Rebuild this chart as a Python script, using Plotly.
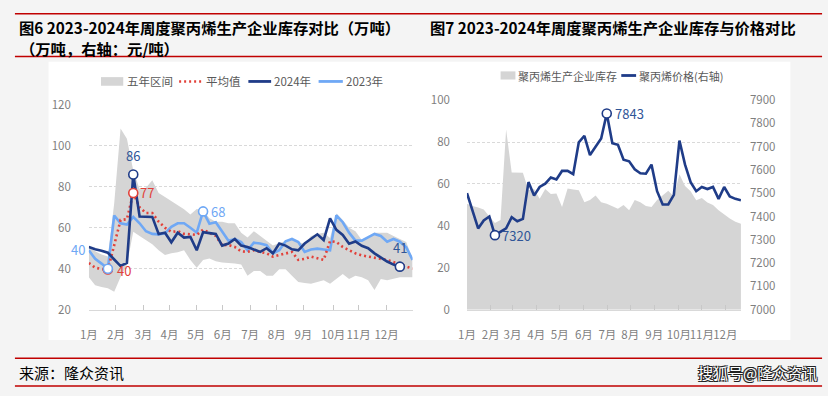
import plotly.graph_objects as go

W, H = 828, 396

# ---------------- data ----------------
weeks = list(range(1, 53))
weeks_2024 = list(range(1, 51))
month_labels = ["1月", "2月", "3月", "4月", "5月", "6月", "7月", "8月", "9月", "10月", "11月", "12月"]
left_month_pos = [1, 5.27, 9.6, 13.7, 17.9, 22.1, 26.4, 30.6, 34.8, 39.5, 43.5, 47.9]
right_month_pos = [1, 5.25, 9.15, 13.4, 17.6, 21.9, 26.1, 30.2, 34.5, 38.9, 43.0, 47.2]

inv_2024 = [50.6, 49.5, 48.8, 47.8, 44.5, 41.3, 42.8, 86.0, 65.5, 65.3,
            65.3, 57.0, 57.6, 52.9, 57.6, 55.2, 55.5, 49.0, 57.8, 57.4,
            57.0, 51.3, 52.3, 54.5, 51.3, 50.6, 49.3, 48.2, 50.0, 47.5,
            52.3, 51.3, 49.5, 49.0, 52.3, 54.5, 56.8, 54.0, 64.6, 59.0,
            56.5, 52.2, 53.3, 51.2, 50.0, 47.5, 45.5, 43.5, 42.0, 41.0]

inv_2023 = [49.0, 44.8, 42.5, 40.0, 66.0, 62.2, 61.6, 65.3, 62.2, 58.3,
            57.0, 56.8, 57.3, 60.5, 62.2, 62.2, 60.0, 57.6, 68.0, 62.0,
            62.7, 58.3, 53.7, 54.5, 53.0, 49.0, 52.7, 52.3, 51.5, 47.5,
            49.0, 53.4, 54.5, 53.0, 48.2, 49.4, 49.8, 49.4, 49.0, 66.1,
            62.7, 57.6, 53.7, 53.7, 55.2, 57.0, 56.0, 53.2, 54.5, 53.2,
            50.5, 44.3]

avg_5y = [42.8, 40.5, 39.8, 39.6, 51.5, 63.8, 64.2, 77.0, 70.0, 67.2,
          67.2, 63.0, 60.0, 58.0, 58.3, 57.0, 56.8, 56.5, 59.1, 57.6,
          56.0, 51.5, 51.6, 50.6, 48.5, 48.2, 49.0, 48.2, 47.5, 45.9,
          46.6, 47.5, 48.2, 44.3, 44.8, 45.9, 45.1, 44.3, 53.5, 53.0,
          50.6, 49.0, 47.5, 46.5, 45.9, 45.1, 44.8, 44.3, 43.2, 42.0,
          40.8, 40.0]

range_hi = [50.5, 48.5, 47.0, 46.0, 72.0, 108.5, 103.5, 88.0, 79.0, 79.5,
            83.2, 77.0, 75.0, 73.0, 71.0, 69.0, 66.5, 69.2, 68.6, 64.6,
            63.0, 63.0, 62.2, 62.2, 57.6, 55.2, 58.3, 56.0, 53.7, 51.3,
            52.6, 53.4, 54.5, 53.0, 52.1, 56.0, 57.0, 57.6, 55.0, 67.0,
            63.8, 60.0, 58.3, 54.0, 56.0, 57.6, 57.6, 57.6, 56.0, 54.5,
            53.0, 45.0]

range_lo = [35.8, 31.9, 31.1, 30.5, 28.8, 36.0, 42.0, 58.0, 56.0, 54.0,
            52.0, 49.0, 46.7, 47.5, 48.0, 49.0, 44.3, 40.5, 44.3, 45.0,
            43.6, 43.0, 42.8, 42.5, 42.0, 36.6, 38.9, 38.9, 36.6, 36.6,
            39.7, 39.7, 36.6, 33.5, 33.0, 32.7, 33.5, 34.3, 32.7, 35.0,
            37.4, 35.0, 36.6, 35.8, 34.3, 29.6, 35.0, 34.3, 35.0, 35.8,
            35.8, 35.8]

price_2024 = [7500, 7425, 7349, 7383, 7400, 7320, 7335, 7349, 7397, 7380,
              7390, 7548, 7490, 7527, 7541, 7568, 7559, 7596, 7596, 7582,
              7719, 7747, 7664, 7698, 7735, 7843, 7715, 7708, 7644, 7637,
              7603, 7586, 7584, 7623, 7509, 7452, 7452, 7493, 7726, 7623,
              7548, 7509, 7527, 7518, 7527, 7476, 7527, 7486, 7476, 7470]

# ---------------- styles ----------------
NAVY = "#1F3C88"
LBLUE = "#6FA8F5"
RED = "#E2413A"
GRAY_FILL = "#D5D5D5"
TXT_GRAY = "#7F7F7F"
FONT = "Noto Sans CJK SC"


def X(px):
    return px / W


def Y(py):
    return 1 - py / H


fig = go.Figure()

# ---- left chart ----
fig.add_trace(go.Scatter(x=weeks, y=range_lo, mode="lines", line=dict(width=0),
                         hoverinfo="skip", xaxis="x", yaxis="y"))
fig.add_trace(go.Scatter(x=weeks, y=range_hi, mode="lines", line=dict(width=0),
                         fill="tonexty", fillcolor=GRAY_FILL,
                         hoverinfo="skip", xaxis="x", yaxis="y"))
fig.add_trace(go.Scatter(x=weeks, y=inv_2023, mode="lines",
                         line=dict(color=LBLUE, width=2.6), xaxis="x", yaxis="y"))
fig.add_trace(go.Scatter(x=weeks, y=avg_5y, mode="lines",
                         line=dict(color=RED, width=2.6, dash="2px,3px"), xaxis="x", yaxis="y"))
fig.add_trace(go.Scatter(x=weeks_2024, y=inv_2024, mode="lines",
                         line=dict(color=NAVY, width=2.6), xaxis="x", yaxis="y"))


def idx_max(a):
    return a.index(max(a))


def idx_min(a):
    return a.index(min(a))


mk = dict(size=9, color="white")
i_mx24 = idx_max(inv_2024)
i_last24 = len(inv_2024) - 1
i_mxavg = idx_max(avg_5y)
i_mnavg = idx_min(avg_5y)
i_mx23 = idx_max(inv_2023)
i_mn23 = idx_min(inv_2023)

fig.add_trace(go.Scatter(x=[weeks_2024[i_mx24], weeks_2024[i_last24]],
                         y=[inv_2024[i_mx24], inv_2024[i_last24]], mode="markers",
                         marker=dict(**mk, line=dict(color=NAVY, width=1.6)), xaxis="x", yaxis="y"))
fig.add_trace(go.Scatter(x=[weeks[i_mxavg], weeks[i_mnavg]],
                         y=[avg_5y[i_mxavg], avg_5y[i_mnavg]], mode="markers",
                         marker=dict(**mk, line=dict(color=RED, width=1.6)), xaxis="x", yaxis="y"))
fig.add_trace(go.Scatter(x=[weeks[i_mx23], weeks[i_mn23]],
                         y=[inv_2023[i_mx23], inv_2023[i_mn23]], mode="markers",
                         marker=dict(**mk, line=dict(color=LBLUE, width=1.6)), xaxis="x", yaxis="y"))

# ---- right chart ----
fig.add_trace(go.Scatter(x=weeks_2024, y=inv_2024, mode="lines", line=dict(width=0),
                         fill="tozeroy", fillcolor=GRAY_FILL, xaxis="x2", yaxis="y2"))
fig.add_trace(go.Scatter(x=weeks_2024, y=price_2024, mode="lines",
                         line=dict(color=NAVY, width=2.6), xaxis="x2", yaxis="y3"))
i_mxp = idx_max(price_2024)
i_mnp = idx_min(price_2024)
fig.add_trace(go.Scatter(x=[weeks_2024[i_mxp], weeks_2024[i_mnp]],
                         y=[price_2024[i_mxp], price_2024[i_mnp]], mode="markers",
                         marker=dict(**mk, line=dict(color=NAVY, width=1.6)), xaxis="x2", yaxis="y3"))

tickfont = dict(family=FONT, size=11.5, color=TXT_GRAY)
grid = dict(showgrid=True, gridcolor="#D9D9D9", griddash="3px,2px", gridwidth=1)
xcommon = dict(ticks="inside", ticklen=5, tickcolor="#C8C8C8", showline=True,
               linecolor="#D9D9D9", linewidth=1, showgrid=False, zeroline=False,
               tickfont=tickfont, ticklabelstandoff=15, tickangle=0, fixedrange=True)

annotations = []
shapes = []


def label(text, x, y, xref, yref, color, xanchor="center", xshift=0, yshift=0, size=13):
    annotations.append(dict(text=text, x=x, y=y, xref=xref, yref=yref, showarrow=False,
                            xanchor=xanchor, yanchor="middle", xshift=xshift, yshift=yshift,
                            font=dict(family=FONT, size=size, color=color)))


label(f"{inv_2024[i_mx24]:.0f}", weeks_2024[i_mx24], inv_2024[i_mx24], "x", "y", "#2F5597", yshift=19)
label(f"{inv_2024[i_last24]:.0f}", weeks_2024[i_last24], inv_2024[i_last24], "x", "y", "#2F5597", yshift=19)
label(f"{avg_5y[i_mxavg]:.0f}", weeks[i_mxavg], avg_5y[i_mxavg], "x", "y", RED, xanchor="left", xshift=5)
label(f"{avg_5y[i_mnavg]:.0f}", weeks[i_mnavg], avg_5y[i_mnavg], "x", "y", RED, xanchor="left", xshift=7, yshift=-1)
label(f"{inv_2023[i_mx23]:.0f}", weeks[i_mx23], inv_2023[i_mx23], "x", "y", LBLUE, xanchor="left", xshift=6)
label(f"{inv_2023[i_mn23]:.0f}", weeks[i_mn23], inv_2023[i_mn23], "x", "y", LBLUE, xanchor="right", xshift=-21, yshift=19)
label(f"{price_2024[i_mxp]:.0f}", weeks_2024[i_mxp], price_2024[i_mxp], "x2", "y3", "#2F5597", xanchor="left", xshift=6)
label(f"{price_2024[i_mnp]:.0f}", weeks_2024[i_mnp], price_2024[i_mnp], "x2", "y3", "#2F5597", xanchor="left", xshift=5)


def ptext(text, px, py, size, color, xanchor="left", bold=False, shadow=None):
    f = dict(family=FONT, size=size, color=color)
    if shadow:
        f["shadow"] = shadow
    annotations.append(dict(text=f"<b>{text}</b>" if bold else text, x=X(px), y=Y(py),
                            xref="paper", yref="paper", showarrow=False,
                            xanchor=xanchor, yanchor="middle", font=f))


# titles
ptext("图6 2023-2024年周度聚丙烯生产企业库存对比（万吨）", 8, 18.5, 15.3, "#000000", bold=True)
ptext("图7 2023-2024年周度聚丙烯生产企业库存与价格对比", 424, 18.5, 15.3, "#000000", bold=True)
ptext("（万吨，右轴：元/吨）", 9, 40.5, 15.3, "#000000", bold=True)
# footer
ptext("来源：隆众资讯", 8, 379, 15, "#000000")
ptext("搜狐号@隆众资讯", 819, 379, 15, "#FFFFFF", xanchor="right",
      shadow="-1px -1px 0 #222, 1px -1px 0 #222, -1px 1px 0 #222, 1px 1px 0 #222")

# legends (left)
LG = "#595959"
shapes.append(dict(type="rect", xref="paper", yref="paper", x0=X(93), x1=X(115.5), y0=Y(80), y1=Y(71),
                   fillcolor=GRAY_FILL, line=dict(width=0)))
ptext("五年区间", 117, 75.5, 11.5, LG)
shapes.append(dict(type="line", xref="paper", yref="paper", x0=X(172), x1=X(195), y0=Y(75.5), y1=Y(75.5),
                   line=dict(color=RED, width=2.5, dash="2px,3px")))
ptext("平均值", 197, 75.5, 11.5, LG)
shapes.append(dict(type="line", xref="paper", yref="paper", x0=X(242), x1=X(265), y0=Y(75.5), y1=Y(75.5),
                   line=dict(color=NAVY, width=2.8)))
ptext("2024年", 265.5, 75.5, 11.5, LG)
shapes.append(dict(type="line", xref="paper", yref="paper", x0=X(313), x1=X(337.5), y0=Y(75.5), y1=Y(75.5),
                   line=dict(color=LBLUE, width=2.8)))
ptext("2023年", 338.5, 75.5, 11.5, LG)
# legends (right)
shapes.append(dict(type="rect", xref="paper", yref="paper", x0=X(497), x1=X(512), y0=Y(73.5), y1=Y(65),
                   fillcolor=GRAY_FILL, line=dict(width=0)))
ptext("聚丙烯生产企业库存", 513, 69.3, 11, LG)
shapes.append(dict(type="line", xref="paper", yref="paper", x0=X(619), x1=X(634), y0=Y(69.3), y1=Y(69.3),
                   line=dict(color=NAVY, width=2.8)))
ptext("聚丙烯价格(右轴)", 634.5, 69.3, 11, LG)

# panel + red rules
shapes.append(dict(type="rect", xref="paper", yref="paper", x0=X(40), x1=X(790), y0=Y(345), y1=Y(55),
                   fillcolor="white", line=dict(width=0), layer="below"))
for ry in (5, 49.5, 364, 393):
    shapes.append(dict(type="line", xref="paper", yref="paper", x0=X(6), x1=X(822), y0=Y(ry), y1=Y(ry),
                       line=dict(color="#C00000", width=1.5)))

fig.update_layout(
    width=W, height=H,
    margin=dict(l=0, r=0, t=0, b=0),
    paper_bgcolor="#F4F4F4",
    plot_bgcolor="white",
    showlegend=False,
    font=dict(family=FONT),
    xaxis=dict(domain=[X(80.7), X(408)], range=[1, 52], anchor="y",
               tickvals=left_month_pos, ticktext=month_labels, **xcommon),
    yaxis=dict(domain=[Y(313.3), Y(100)], range=[20, 120], dtick=20, anchor="x",
               zeroline=False, showline=False, ticks="", tickfont=tickfont,
               ticklabelstandoff=17, fixedrange=True, **grid),
    xaxis2=dict(domain=[X(463), X(740)], range=[1, 50], anchor="y2",
                tickvals=right_month_pos, ticktext=month_labels, **xcommon),
    yaxis2=dict(domain=[Y(313.3), Y(95)], range=[0, 100], dtick=20, anchor="x2",
                zeroline=False, showline=False, ticks="", tickfont=tickfont,
                ticklabelstandoff=16, fixedrange=True, **grid),
    yaxis3=dict(overlaying="y2", side="right", anchor="x2", range=[7000, 7900], dtick=100,
                showgrid=False, zeroline=False, showline=False, ticks="", tickfont=tickfont,
                ticklabelstandoff=8, fixedrange=True),
    annotations=annotations,
    shapes=shapes,
)

fig.write_html("out.html", config={"displayModeBar": False},
               post_script="document.body.style.margin='0';document.body.style.padding='0';")
